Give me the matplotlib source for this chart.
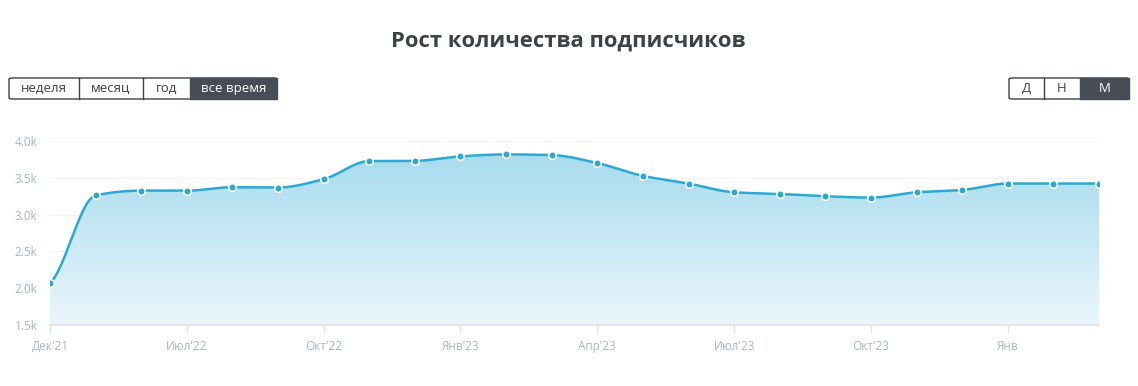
import numpy as np
import matplotlib
matplotlib.use("Agg")
import matplotlib.pyplot as plt
from matplotlib.patches import FancyBboxPatch, Rectangle
from matplotlib.path import Path
from matplotlib.patches import PathPatch

# ---- data ----
values = [2070, 3262, 3326, 3325, 3372, 3368, 3481, 3727, 3730, 3791, 3818, 3809,
          3700, 3526, 3422, 3303, 3280, 3249, 3231, 3303, 3335, 3422, 3422, 3422]
tick_idx = [0, 3, 6, 9, 12, 15, 18, 21]
tick_labels = ["Дек'21", "Июл'22", "Окт'22", "Янв'23", "Апр'23", "Июл'23", "Окт'23", "Янв"]
y_ticks = [1500, 2000, 2500, 3000, 3500, 4000]
y_labels = ["1.5k", "2.0k", "2.5k", "3.0k", "3.5k", "4.0k"]
title = "Рост количества подписчиков"
left_buttons = ["неделя", "месяц", "год", "все время"]
right_buttons = ["Д", "Н", "М"]

plt.rcParams['font.family'] = ['Open Sans', 'DejaVu Sans']

W, H = 1138, 386
fig = plt.figure(figsize=(W / 100, H / 100), dpi=100)

LINE = "#2ba8d3"
TICKC = "#a9b6c2"


def fx(px):
    return px / W


def fy(py):
    return 1 - py / H


ax = fig.add_axes([fx(50), fy(325), fx(1099) - fx(50), fy(141) - fy(325)])
x = np.arange(len(values), dtype=float)
y = np.array(values, dtype=float)


# monotone cubic curve through the data points (rendering only)
def monotone_curve(xs, ys, n=24):
    h = np.diff(xs)
    d = np.diff(ys) / h
    m = np.zeros_like(ys)
    m[0], m[-1] = 0.45 * d[0], 0.45 * d[-1]
    for i in range(1, len(ys) - 1):
        if d[i - 1] * d[i] <= 0:
            m[i] = 0
        else:
            w1 = 2 * h[i] + h[i - 1]
            w2 = h[i] + 2 * h[i - 1]
            m[i] = (w1 + w2) / (w1 / d[i - 1] + w2 / d[i])
    X, Y = [], []
    for i in range(len(xs) - 1):
        t = np.linspace(0, 1, n, endpoint=False)
        h00 = 2 * t**3 - 3 * t**2 + 1
        h10 = t**3 - 2 * t**2 + t
        h01 = -2 * t**3 + 3 * t**2
        h11 = t**3 - t**2
        X.append(xs[i] + t * h[i])
        Y.append(h00 * ys[i] + h10 * h[i] * m[i] + h01 * ys[i + 1] + h11 * h[i] * m[i + 1])
    X.append([xs[-1]])
    Y.append([ys[-1]])
    return np.concatenate(X), np.concatenate(Y)


cx, cy = monotone_curve(x, y)

ymin, ymax = 1500, 4000
ax.set_xlim(0, len(values) - 1)
ax.set_ylim(ymin, ymax)

# gradient fill
verts = np.column_stack([np.concatenate([cx, [cx[-1], cx[0]]]),
                         np.concatenate([cy, [ymin, ymin]])])
poly = PathPatch(Path(verts), facecolor="none", edgecolor="none")
ax.add_patch(poly)
top = np.array([0xa6, 0xdb, 0xee]) / 255
bot = np.array([0xea, 0xf6, 0xfb]) / 255
grad = np.linspace(0, 1, 256)[:, None]
img = top[None, None, :] * (1 - grad[:, :, None]) + bot[None, None, :] * grad[:, :, None]
im = ax.imshow(img, extent=[0, len(values) - 1, ymin, 3850], aspect="auto",
               origin="upper", zorder=1)
im.set_clip_path(poly)

for v in y_ticks:
    ax.axhline(v, color="#f3f4f6", lw=0.8, zorder=0)

ax.plot(cx, cy, color=LINE, lw=1.8, zorder=3, solid_capstyle="round")
ax.plot(x, y, "o", ms=5.5, mfc=LINE, mec="white", mew=1.2, zorder=4)

for s in ["top", "right", "left"]:
    ax.spines[s].set_visible(False)
ax.spines["bottom"].set_color("#dde3ea")
ax.spines["bottom"].set_linewidth(1.2)
ax.set_xticks(tick_idx)
ax.set_xticklabels(tick_labels)
ax.set_yticks(y_ticks)
ax.set_yticklabels(y_labels)
ax.tick_params(axis="x", colors="#dde3ea", length=6, width=1, labelcolor=TICKC,
               labelsize=8.5, pad=5)
ax.tick_params(axis="y", length=0, labelcolor=TICKC, labelsize=8.5, pad=9)

# title
fig.text(fx(568), fy(41), title, ha="center", va="center", fontsize=15.8,
         fontweight="bold", color="#3d4249")


# buttons
def buttons(labels, edges, y0, y1, active):
    fig.add_artist(FancyBboxPatch((fx(edges[0]), fy(y1)), fx(edges[-1] - edges[0]),
                                  fy(y0) - fy(y1), boxstyle="round,pad=0,rounding_size=0.003",
                                  transform=fig.transFigure, facecolor="white",
                                  edgecolor="#3d4249", lw=1))
    for i, lab in enumerate(labels):
        a, b = edges[i], edges[i + 1]
        if i == active:
            fig.add_artist(Rectangle((fx(a), fy(y1)), fx(b - a), fy(y0) - fy(y1),
                                     transform=fig.transFigure, facecolor="#474c55",
                                     edgecolor="#474c55", lw=1))
        elif i > 0:
            fig.add_artist(plt.Line2D([fx(a), fx(a)], [fy(y1), fy(y0)],
                                      transform=fig.transFigure, color="#3d4249", lw=1))
        fig.text(fx((a + b) / 2), fy((y0 + y1) / 2), lab, ha="center", va="center",
                 fontsize=9.5, color="white" if i == active else "#3d4249")


buttons(left_buttons, [9, 79, 143, 190, 277], 78, 99, 3)
buttons(right_buttons, [1009, 1044, 1080, 1129], 78, 99, 2)

fig.savefig("out.png", dpi=100)
